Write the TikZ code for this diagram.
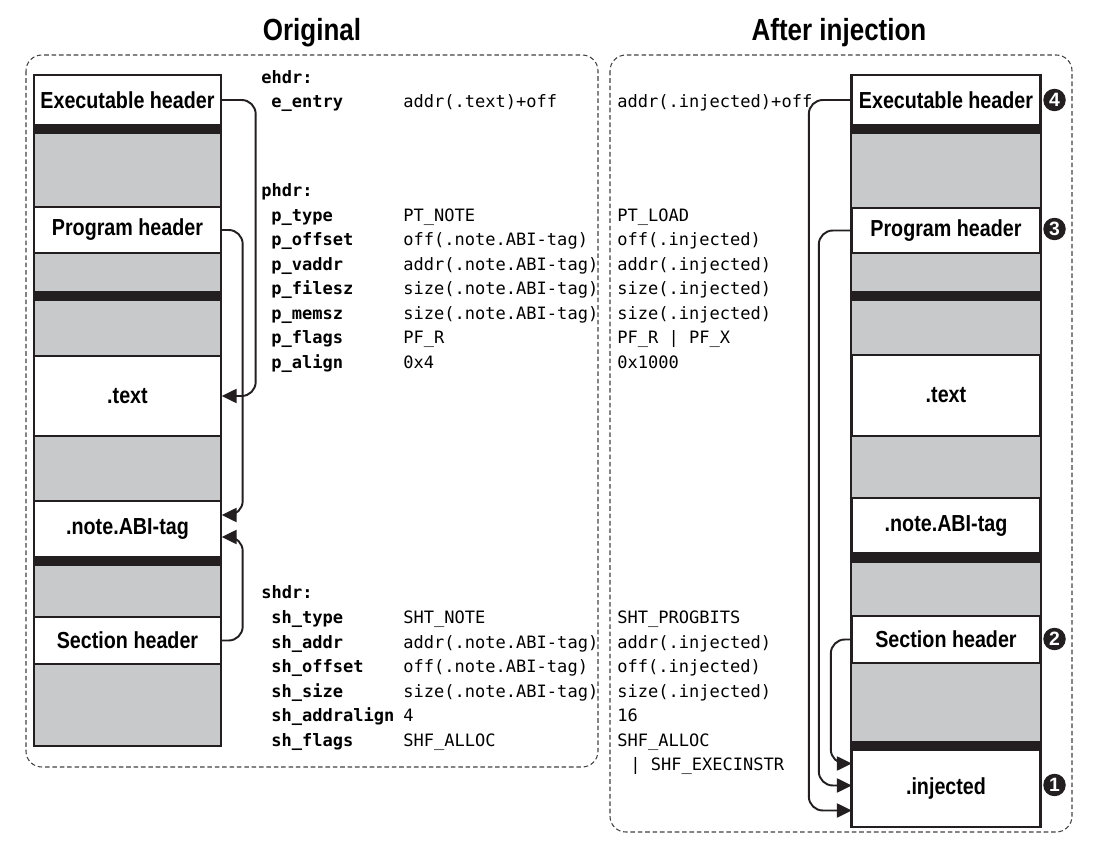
\documentclass[tikz,border=0pt]{standalone}
\usepackage{fontspec}
\setmainfont{Liberation Sans}
\setmonofont{DejaVu Sans Mono}
\newfontfamily\boxfont[FakeStretch=0.85]{Liberation Sans}
\usetikzlibrary{arrows.meta,calc}
\definecolor{memgray}{RGB}{200,201,203}
\definecolor{band}{RGB}{35,31,32}

\begin{document}
\begin{tikzpicture}[x=0.02cm,y=-0.02cm,
  seg/.style={draw=band,line width=0.8pt,fill=memgray},
  sect/.style={draw=band,line width=0.8pt,fill=white,minimum width=3.74cm,inner sep=0pt,
    font=\boxfont\bfseries\fontsize{13.2}{14}\selectfont},
  title/.style={anchor=base,inner sep=0pt,font=\boxfont\bfseries\fontsize{17.4}{18}\selectfont},
  fld/.style={anchor=base west,inner sep=0pt,font=\ttfamily\bfseries\fontsize{9.7}{12}\selectfont},
  val/.style={anchor=base west,inner sep=0pt,font=\ttfamily\fontsize{9.7}{12}\selectfont},
  badge/.style={circle,fill=band,text=white,inner sep=0pt,minimum size=0.45cm,
    font=\bfseries\fontsize{11}{11}\selectfont},
  link/.style={draw=band,line width=1.1pt,rounded corners=8pt,-{Triangle[length=8.5pt,width=8pt]}},
  frame/.style={draw=band!85,line width=0.6pt,dash pattern=on 2.6pt off 1.6pt,rounded corners=9pt}]

\useasboundingbox (0,0) rectangle (1100,858);

%titles and dashed frames
  \node[title] (torig) at (312,41) {Original};
  \node[title] (tinj) at (839,41) {After injection};
  \draw[frame] (26,55) rectangle (598,767);
  \draw[frame] (610,55) rectangle (1072,832);

%original file layout
  \foreach \t/\b in {133/207,253/292,300/356,436/501,565/617,664/746}
    \draw[seg] (34,\t) rectangle (221,\b);
  \foreach \t/\b in {125/133,292/300,557/565}
    \fill[band] (34,\t) rectangle (221,\b);
  \node[sect,minimum height=1cm] (lexe) at (127.5,100) {Executable header};
  \node[sect,minimum height=0.92cm] (lph) at (127.5,230) {Program header};
  \node[sect,minimum height=1.6cm] (ltext) at (127.5,396) {.text};
  \node[sect,minimum height=1.12cm] (lnote) at (127.5,529) {.note.ABI-tag};
  \node[sect,minimum height=0.94cm] (lsh) at (127.5,640.5) {Section header};
  \draw[band,line width=1.1pt] (34,75) rectangle (221,746);

%injected file layout
  \foreach \t/\b in {133/208,253/292,300/355,436/498,562/616,663/742}
    \draw[seg] (851,\t) rectangle (1041,\b);
  \foreach \t/\b in {125/133,292/300,553/562,742/750}
    \fill[band] (851,\t) rectangle (1041,\b);
  \node[sect,minimum height=1cm] (rexe) at (946,100) {Executable header};
  \node[sect,minimum height=0.9cm] (rph) at (946,230.5) {Program header};
  \node[sect,minimum height=1.62cm] (rtext) at (946,395.5) {.text};
  \node[sect,minimum height=1.1cm] (rnote) at (946,525.5) {.note.ABI-tag};
  \node[sect,minimum height=0.94cm] (rsh) at (946,639.5) {Section header};
  \node[sect,minimum height=1.54cm] (rinj) at (946,788.5) {.injected};
  \draw[band,line width=1.1pt] (851,75) rectangle (1041,827);

%step numbers
  \foreach \n/\y in {4/100,3/229,2/639,1/785}
    \node[badge] (b\n) at (1054.5,\y) {\n};

%pointers in the original file
  \coordinate (lnoteA) at ($(lnote.east)+(0,-14)$);
  \coordinate (lnoteB) at ($(lnote.east)+(0,8)$);
  \draw[link] (lexe.east) -- ++(34,0) |- (ltext.east);
  \draw[link] (lph.east) -- ++(21,0) |- (lnoteA);
  \draw[link] (lsh.east) -- ++(21,0) |- (lnoteB);

%pointers after injection
  \coordinate (rinjA) at ($(rinj.west)+(0,22)$);
  \coordinate (rinjB) at ($(rinj.west)+(0,-3)$);
  \coordinate (rinjC) at ($(rinj.west)+(0,-25)$);
  \draw[link] (rexe.west) -- ++(-43,0) |- (rinjA);
  \draw[link] (rph.west) -- ++(-33,0) |- (rinjB);
  \draw[link] (rsh.west) -- ++(-21,0) |- (rinjC);

%executable header fields
  \node[fld] (ehdr) at (261,83.5) {ehdr:};
  \node[fld] (ek) at (271,107.5) {e\_entry};
  \node[val] (ev) at (403,107.5) {addr(.text)+off};
  \node[val] (en) at (617,107.5) {addr(.injected)+off};

%program header fields
  \node[fld] (phdr) at (261,196.5) {phdr:};
  \foreach \k/\v/\w [count=\i from 0] in {p\_type/PT\_NOTE/PT\_LOAD,
      p\_offset/off(.note.ABI-tag)/off(.injected),
      p\_vaddr/addr(.note.ABI-tag)/addr(.injected),
      p\_filesz/size(.note.ABI-tag)/size(.injected),
      p\_memsz/size(.note.ABI-tag)/size(.injected),
      p\_flags/PF\_R/PF\_R | PF\_X,
      p\_align/0x4/0x1000} {
    \node[fld] (pk\i) at (271,{221.5+24.5*\i}) {\k};
    \node[val] (pv\i) at (403,{221.5+24.5*\i}) {\v};
    \node[val] (pn\i) at (617,{221.5+24.5*\i}) {\w}; }

%section header fields
  \node[fld] (shdr) at (261,598.5) {shdr:};
  \foreach \k/\v/\w [count=\i from 0] in {sh\_type/SHT\_NOTE/SHT\_PROGBITS,
      sh\_addr/addr(.note.ABI-tag)/addr(.injected),
      sh\_offset/off(.note.ABI-tag)/off(.injected),
      sh\_size/size(.note.ABI-tag)/size(.injected),
      sh\_addralign/4/16,
      sh\_flags/SHF\_ALLOC/SHF\_ALLOC} {
    \node[fld] (sk\i) at (271,{623.5+24.5*\i}) {\k};
    \node[val] (sv\i) at (403,{623.5+24.5*\i}) {\v};
    \node[val] (sn\i) at (617,{623.5+24.5*\i}) {\w}; }
  \node[val] (sn6) at (630,770.5) {| SHF\_EXECINSTR};

\end{tikzpicture}
\end{document}
